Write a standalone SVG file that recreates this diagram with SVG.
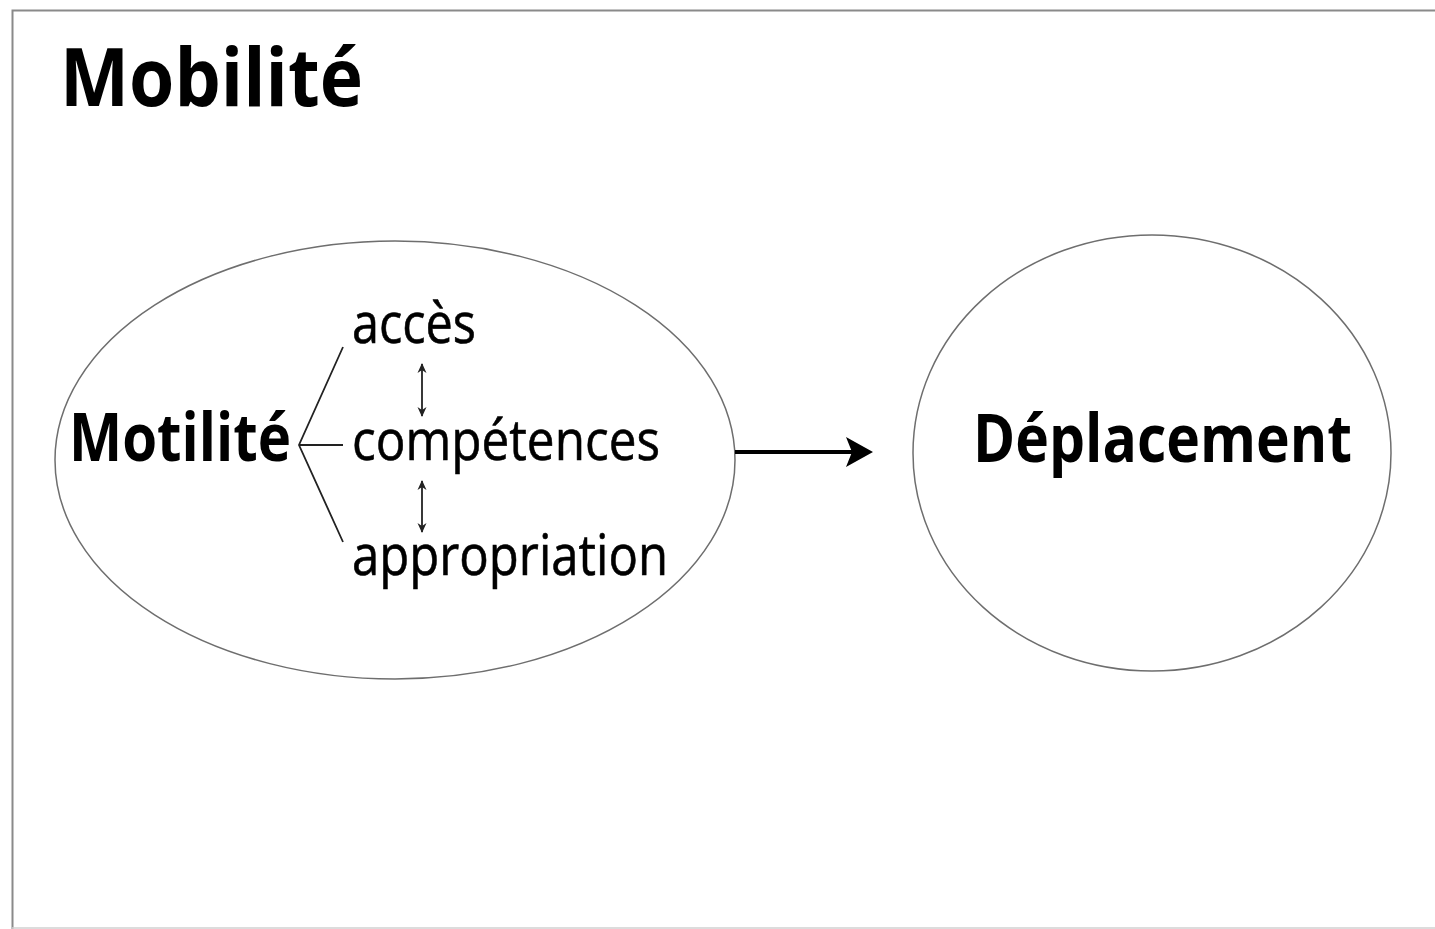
<svg xmlns="http://www.w3.org/2000/svg" width="1435" height="929" viewBox="0 0 1435 929">
<style>
  .frame{stroke:#8a8a8a;stroke-width:2;fill:none}
  .shape{fill:none;stroke:#6e6e6e;stroke-width:1.5}
  .b{font-family:"Open Sans","Noto Sans",sans-serif;font-weight:bold;fill:#000}
  .r{font-family:"Open Sans","Noto Sans",sans-serif;font-weight:normal;fill:#000;stroke:#000;stroke-width:0.6}
  .thin{stroke:#222;stroke-width:1.8;fill:none}
</style>
<defs>
  <marker id="sm" viewBox="0 0 10 10" refX="9" refY="5" markerWidth="10" markerHeight="10" markerUnits="userSpaceOnUse" orient="auto-start-reverse">
    <path d="M0,0.5 L10,5 L0,9.5 L3,5 Z" fill="#222"/>
  </marker>
</defs>
<rect width="1435" height="929" fill="#fff"/>
<path class="frame" d="M12.5,929 L12.5,10.5 L1435,10.5"/>
<line x1="12" y1="928" x2="1435" y2="928" stroke="#d0d0d0" stroke-width="1.5"/>
<g id="title">
  <text class="b" x="60" y="106" font-size="81" textLength="303" lengthAdjust="spacingAndGlyphs">Mobilité</text>
</g>
<g id="motilite">
  <ellipse class="shape" cx="395" cy="460" rx="340" ry="219"/>
  <text class="b" x="69" y="461" font-size="66" textLength="222" lengthAdjust="spacingAndGlyphs">Motilité</text>
  <text class="r" x="352" y="343" font-size="57" textLength="124" lengthAdjust="spacingAndGlyphs">accès</text>
  <text class="r" x="352" y="460" font-size="57" textLength="308" lengthAdjust="spacingAndGlyphs">compétences</text>
  <text class="r" x="352" y="575" font-size="57" textLength="316" lengthAdjust="spacingAndGlyphs">appropriation</text>
  <path class="thin" d="M343,347 L299,445 L343,542 M299,445 L343,445"/>
  <line class="thin" x1="422" y1="364" x2="422" y2="416" marker-start="url(#sm)" marker-end="url(#sm)"/>
  <line class="thin" x1="422" y1="481" x2="422" y2="532" marker-start="url(#sm)" marker-end="url(#sm)"/>
</g>
<g id="deplacement">
  <ellipse class="shape" cx="1152" cy="453" rx="239" ry="218"/>
  <text class="b" x="973" y="462" font-size="66" textLength="379" lengthAdjust="spacingAndGlyphs">Déplacement</text>
</g>
<g id="connectors">
  <line x1="735" y1="452" x2="855" y2="452" stroke="#000" stroke-width="4"/>
  <path d="M873,452 L846,437 L852,452 L846,467 Z" fill="#000"/>
</g>
</svg>
